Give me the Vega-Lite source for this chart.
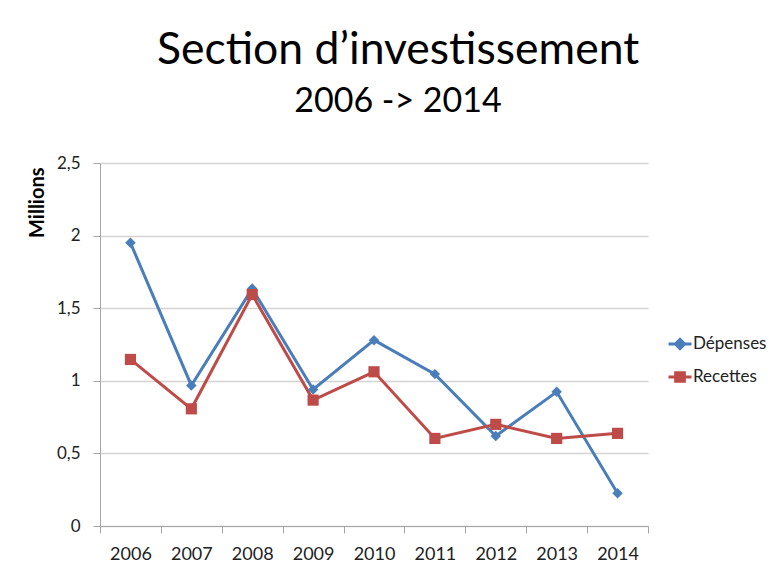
{
  "$schema": "https://vega.github.io/schema/vega-lite/v6.json",
  "width": 548,
  "height": 363,
  "autosize": {"type": "none"},
  "padding": {"left": 100, "top": 163, "right": 136, "bottom": 50},
  "background": "white",
  "config": {"view": {"stroke": null}},
  "title": {
    "text": "Section d’investissement",
    "subtitle": "2006 -> 2014",
    "anchor": "middle",
    "dx": 24,
    "font": "Lato",
    "fontSize": 44.5,
    "fontWeight": "normal",
    "color": "#000000",
    "subtitleFont": "Lato",
    "subtitleFontSize": 34,
    "subtitleColor": "#000000",
    "subtitlePadding": 12,
    "offset": 34
  },
  "data": {
    "values": [
      {"annee": "2006", "serie": "Dépenses", "valeur": 1.95},
      {"annee": "2007", "serie": "Dépenses", "valeur": 0.968},
      {"annee": "2008", "serie": "Dépenses", "valeur": 1.635},
      {"annee": "2009", "serie": "Dépenses", "valeur": 0.94},
      {"annee": "2010", "serie": "Dépenses", "valeur": 1.28},
      {"annee": "2011", "serie": "Dépenses", "valeur": 1.046},
      {"annee": "2012", "serie": "Dépenses", "valeur": 0.62},
      {"annee": "2013", "serie": "Dépenses", "valeur": 0.924},
      {"annee": "2014", "serie": "Dépenses", "valeur": 0.225},
      {"annee": "2006", "serie": "Recettes", "valeur": 1.147},
      {"annee": "2007", "serie": "Recettes", "valeur": 0.807},
      {"annee": "2008", "serie": "Recettes", "valeur": 1.594},
      {"annee": "2009", "serie": "Recettes", "valeur": 0.867},
      {"annee": "2010", "serie": "Recettes", "valeur": 1.062},
      {"annee": "2011", "serie": "Recettes", "valeur": 0.603},
      {"annee": "2012", "serie": "Recettes", "valeur": 0.70},
      {"annee": "2013", "serie": "Recettes", "valeur": 0.603},
      {"annee": "2014", "serie": "Recettes", "valeur": 0.638}
    ]
  },
  "encoding": {
    "x": {
      "field": "annee",
      "type": "ordinal",
      "bandPosition": 0.5,
      "scale": {"type": "band", "paddingInner": 0, "paddingOuter": 0},
      "axis": {
        "title": null,
        "labelAngle": 0,
        "tickBand": "extent",
        "grid": false,
        "domainColor": "#a6a6a6",
        "tickColor": "#a6a6a6",
        "tickSize": 7,
        "labelFont": "Lato",
        "labelFontSize": 18,
        "labelColor": "#222222",
        "labelPadding": 12
      }
    },
    "y": {
      "field": "valeur",
      "type": "quantitative",
      "scale": {"domain": [0, 2.5]},
      "axis": {
        "title": "Millions",
        "values": [0, 0.5, 1, 1.5, 2, 2.5],
        "labelExpr": "replace(format(datum.value, '~g'), '.', ',')",
        "grid": true,
        "gridColor": "#d4d4d4",
        "gridWidth": 1.5,
        "domainColor": "#a6a6a6",
        "tickColor": "#a6a6a6",
        "tickSize": 7,
        "labelFont": "Lato",
        "labelFontSize": 17,
        "labelColor": "#222222",
        "labelPadding": 13,
        "titleFont": "Lato",
        "titleFontSize": 20,
        "titleFontWeight": "bold",
        "titleColor": "#000000",
        "titleAngle": -90,
        "titleAlign": "right",
        "titleBaseline": "alphabetic",
        "titleX": -57,
        "titleY": 4
      }
    },
    "color": {
      "field": "serie",
      "type": "nominal",
      "scale": {"domain": ["Dépenses", "Recettes"], "range": ["#4A7EBB", "#BE4B48"]},
      "legend": {
        "orient": "none",
        "legendX": 567,
        "legendY": 168,
        "title": null,
        "labelFont": "Lato",
        "labelFontSize": 17,
        "labelColor": "#222222",
        "labelOffset": 0,
        "symbolSize": 529,
        "symbolStrokeWidth": 3,
        "rowPadding": 9,
        "padding": 0,
        "encode": {
          "symbols": {
            "update": {
              "shape": {"signal": "datum.value === 'Dépenses' ? 'M-1,0H1M0,-0.4L0.4,0L0,0.4L-0.4,0Z' : 'M-1,0H1M-0.38,-0.38H0.38V0.38H-0.38Z'"},
              "fill": {"signal": "datum.value === 'Dépenses' ? '#4A7EBB' : '#BE4B48'"},
              "stroke": {"signal": "datum.value === 'Dépenses' ? '#4A7EBB' : '#BE4B48'"},
              "strokeWidth": {"value": 3},
              "opacity": {"value": 1}
            }
          }
        }
      }
    }
  },
  "layer": [
    {"mark": {"type": "line", "strokeWidth": 3}},
    {
      "mark": {"type": "point", "filled": true, "opacity": 1},
      "encoding": {
        "shape": {
          "condition": {"test": "datum.serie === 'Dépenses'", "value": "diamond"},
          "value": "square"
        },
        "size": {
          "condition": {"test": "datum.serie === 'Dépenses'", "value": 110},
          "value": 125
        }
      }
    }
  ]
}
